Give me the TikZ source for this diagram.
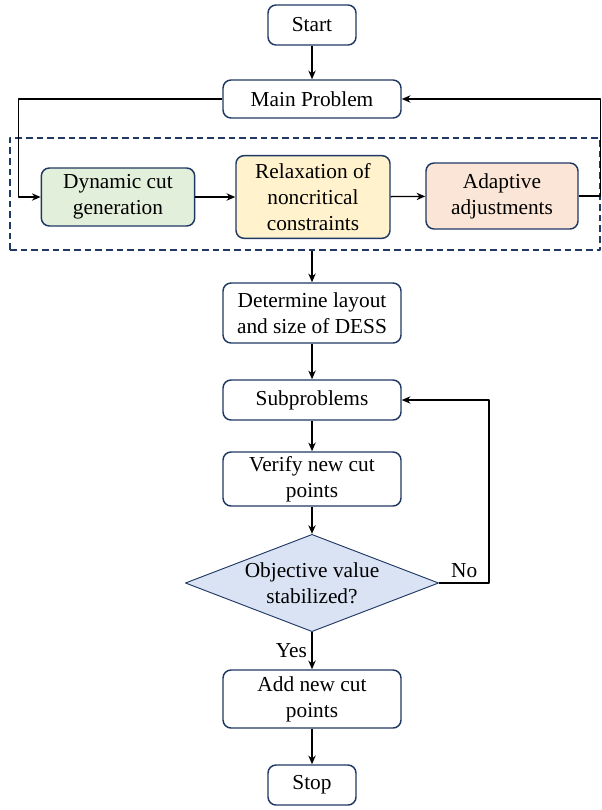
\documentclass[tikz,border=0pt]{standalone}
\usepackage{fontspec}
\setmainfont{Liberation Serif}
\usetikzlibrary{shapes.geometric,arrows.meta}
\definecolor{navy}{RGB}{32,56,100}
\definecolor{cutgreen}{RGB}{226,239,218}
\definecolor{relaxyellow}{RGB}{255,242,204}
\definecolor{adaptpeach}{RGB}{251,229,214}
\definecolor{decblue}{RGB}{218,227,243}
\begin{document}
\begin{tikzpicture}[>={Stealth[length=6.5pt,width=5.5pt]},line join=round,x=0.75pt,y=-0.75pt,
	font=\fontsize{16}{19.5}\selectfont,
	box/.style={draw=navy,line width=1.1pt,rounded corners=6pt,align=center,inner sep=2pt,minimum width=133.5pt},
	decision/.style={draw=navy,line width=0.7pt,diamond,fill=decblue,align=center,inner sep=-1pt,aspect=2.6,minimum width=190pt,minimum height=73pt},
	flow/.style={->,line width=1pt}]
	\useasboundingbox (0,0) rectangle (602,810);
	
	\node[box,minimum width=66pt,minimum height=30pt] (start) at (312,25) {Start};
	\node[box,minimum height=28.5pt] (main) at (312,99) {Main Problem};
	
	% group of strategies
	\node[draw=navy,dashed,dash pattern=on 5pt off 3pt,line width=0.8pt,minimum width=442.5pt,minimum height=84pt,inner sep=0pt] (group) at (305,194) {};
	\node[box,fill=cutgreen,minimum width=115pt,minimum height=43.5pt] (dyn) at (118,197) {Dynamic cut\\generation};
	\node[box,fill=relaxyellow,minimum width=115.5pt,minimum height=62pt] (relax) at (313,197) {Relaxation of\\noncritical\\constraints};
	\node[box,fill=adaptpeach,minimum width=114pt,minimum height=49.5pt] (adapt) at (502,196) {Adaptive\\adjustments};
	
	\node[box,minimum height=45pt] (design) at (312,313) {Determine layout\\and size of DESS};
	\node[box,minimum height=30pt] (sub) at (312,400) {Subproblems};
	\node[box,minimum height=40.5pt] (verify) at (312,479) {Verify new cut\\points};
	\node[decision] (dec) at (312,583) {Objective value\\stabilized?};
	\node[box,minimum height=43.5pt] (add) at (312,699) {Add new cut\\points};
	\node[box,minimum width=66pt,minimum height=30pt] (stop) at (312,785) {Stop};
	
	\draw[flow] (start) -- (main);
	\draw[flow] (main.west) -- ++(-204,0) |- (dyn.west);
	\draw[flow] (dyn) -- (relax);
	\draw[flow] (relax) -- (adapt);
	\draw[flow] (adapt.east) -- ++(22,0) |- (main.east);
	\draw[flow] (group.south -| design.north) -- (design);
	\draw[flow] (design) -- (sub);
	\draw[flow] (sub) -- (verify);
	\draw[flow] (verify) -- (dec);
	\draw[flow] (dec.east) -- node[above]{No} ++(50,0) |- (sub.east);
	\draw[flow] (dec.south) -- node[left]{Yes} (add.north);
	\draw[flow] (add) -- (stop);
\end{tikzpicture}
\end{document}
